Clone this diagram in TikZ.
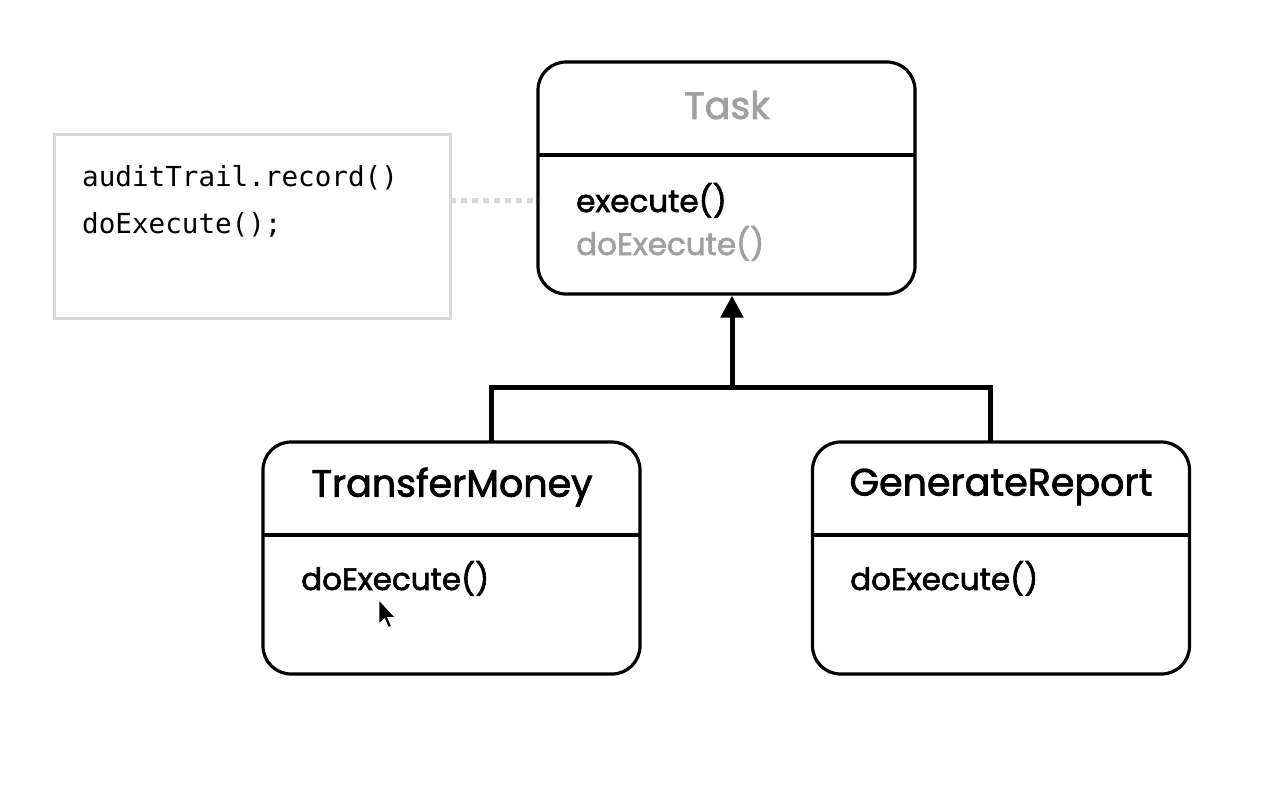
\documentclass[tikz,border=0pt]{standalone}
\usepackage{fontspec}
\setmainfont{Poppins}[UprightFeatures={FakeBold=2}]
\newfontfamily\codefont{DejaVu Sans Mono}
\usetikzlibrary{arrows.meta}
\definecolor{lgray}{HTML}{D9D9D9}
\definecolor{tgray}{HTML}{A0A0A0}
\begin{document}
\begin{tikzpicture}[x=1pt,y=-1pt,
  classbox/.style={draw=black, line width=3.2pt, rounded corners=28pt, minimum width=377pt, minimum height=232pt, inner sep=0pt},
  divider/.style={draw=black, line width=3.2pt},
  titletext/.style={font=\fontsize{38}{44}\selectfont, inner sep=0pt},
  methodtext/.style={font=\fontsize{31}{36}\selectfont, inner sep=0pt, anchor=base west},
  codetext/.style={font=\codefont\fontsize{27.6}{32}\selectfont, inner sep=0pt, anchor=base west},
  inherit/.style={draw=black, line width=5pt, line join=miter},
  notelink/.style={draw=lgray, line width=5pt, dash pattern=on 6pt off 5pt}]
\useasboundingbox (0,0) rectangle (1273,800);
% note
\node[draw=lgray, line width=3pt, minimum width=396pt, minimum height=184pt, inner sep=0pt] (note) at (252,226) {};
\node[codetext] (code1) at (82,186) {auditTrail.record()};
\node[codetext] (code2) at (82,233) {doExecute();};
% Task
\node[classbox] (task) at (726.5,178) {};
\draw[divider] (538,155) -- (915,155);
\node[titletext, text=tgray] (tasktitle) at (727,105) {Task};
\node[methodtext] (taskexec) at (576,212) {execute()};
\node[methodtext, text=tgray] (taskdo) at (576,255) {doExecute()};
% subclasses
\node[classbox] (tm) at (451.5,558) {};
\draw[divider] (263,535) -- (640,535);
\node[titletext] (tmtitle) at (452,487) {TransferMoney};
\node[methodtext] (tmdo) at (301,590) {doExecute()};
\node[classbox] (gr) at (1001,558) {};
\draw[divider] (812,535) -- (1190,535);
\node[titletext] (grtitle) at (1001,487) {GenerateReport};
\node[methodtext] (grdo) at (850,590) {doExecute()};
% connectors
\coordinate (joint) at (732,387);
\coordinate (tmtop) at (491,442);
\coordinate (grtop) at (990,442);
\coordinate (noteport) at (450,200);
\coordinate (taskport) at (538,200);
\draw[inherit] (tmtop) |- (joint) -| (grtop);
\draw[inherit, -{Triangle[length=22pt,width=22pt]}] (joint) -- (joint |- task.south);
\draw[notelink] (noteport) -- (taskport);
% mouse cursor
\filldraw[fill=black, draw=white, line width=0.8pt, shift={(379,600)}, scale=1.25]
  (0,0) -- (0,19) -- (4.5,15) -- (7.5,22) -- (10,21) -- (7,14) -- (13,14) -- cycle;
\end{tikzpicture}
\end{document}
